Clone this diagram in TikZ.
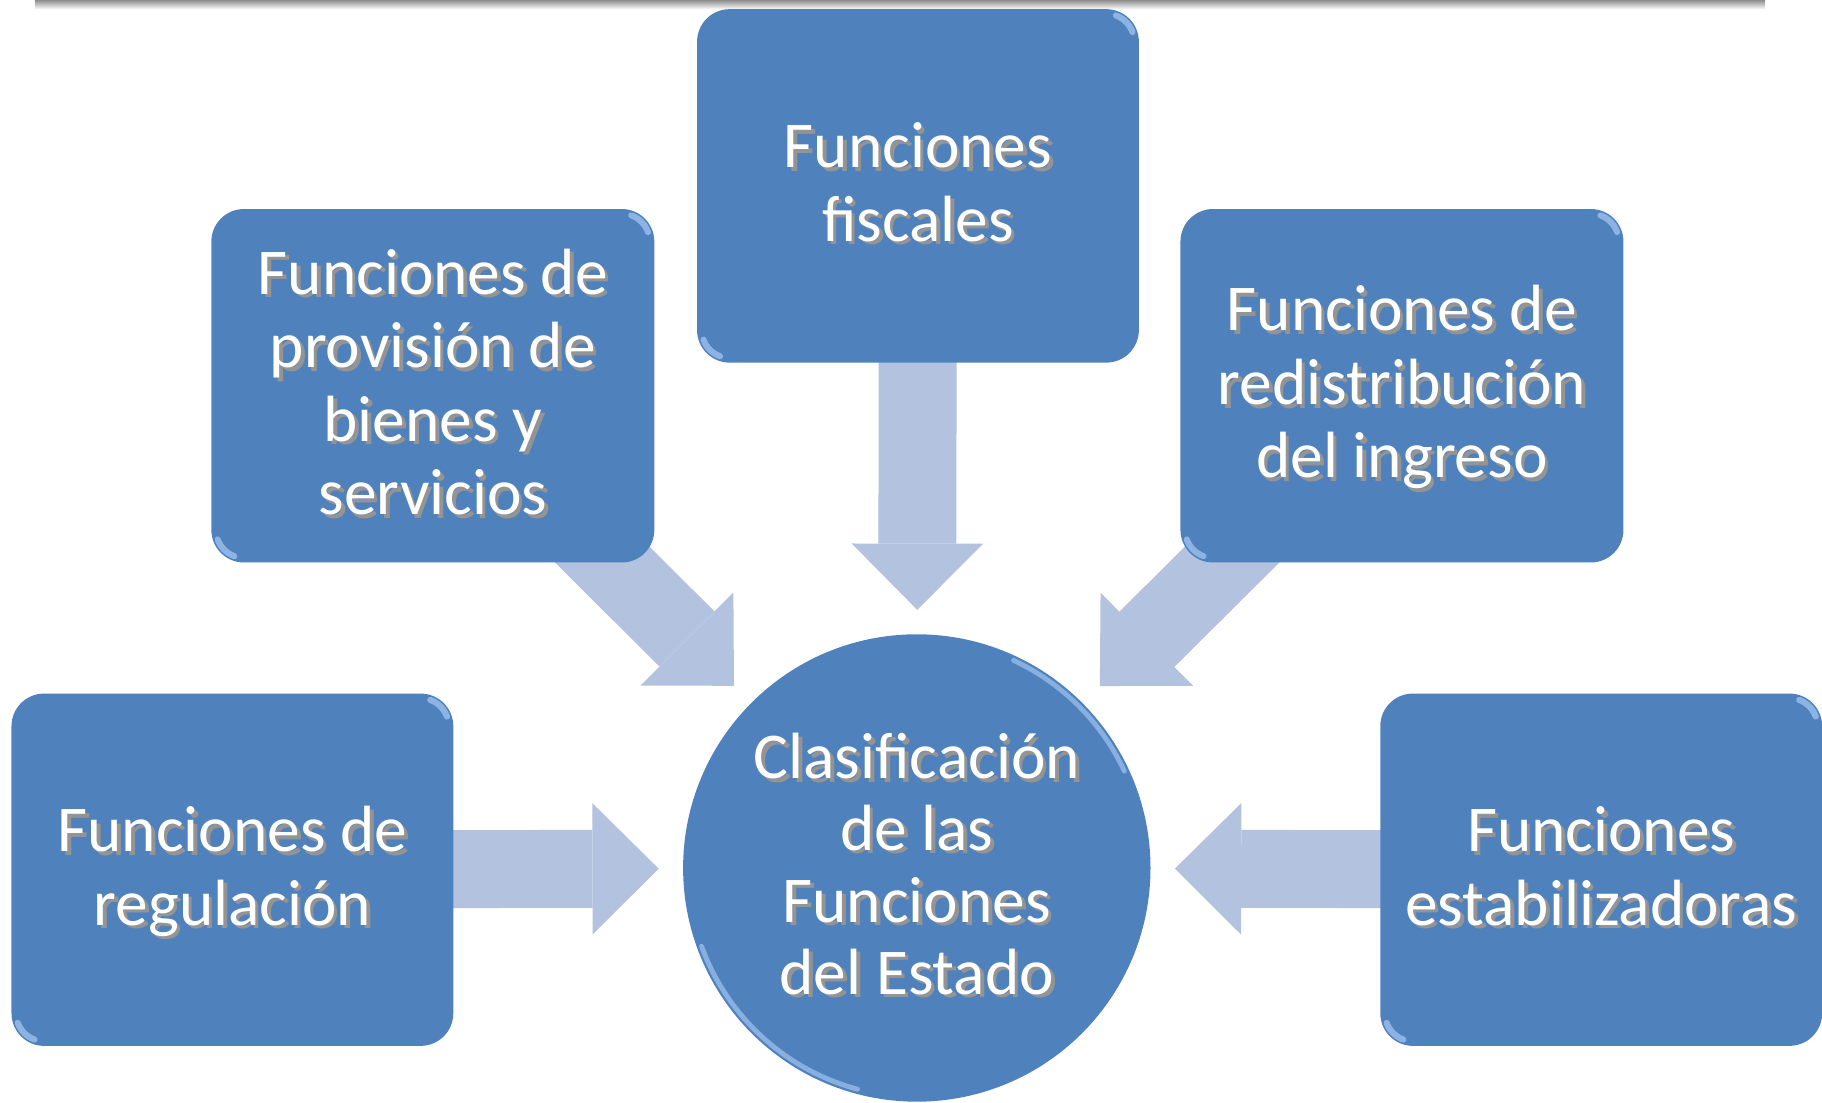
\documentclass[tikz,border=0pt]{standalone}
\usepackage{fontspec}
\setmainfont{Carlito}
\usetikzlibrary{arrows.meta,backgrounds}
\definecolor{boxblue}{RGB}{79,129,189}
\definecolor{arrowblue}{RGB}{179,194,222}
\definecolor{glint}{RGB}{150,188,235}
% white text with a soft dark shadow
\newcommand{\shtxt}[1]{\raisebox{-1.4pt}[\height][\depth]{%
\makebox[0pt][l]{\hspace{0.9pt}\raisebox{-0.9pt}{\color{black!42}\begin{tabular}{@{}c@{}}#1\end{tabular}}}%
\begin{tabular}{@{}c@{}}#1\end{tabular}}}
\tikzset{
funcbox/.style={rectangle, rounded corners=2.8mm, fill=boxblue, minimum width=3.8cm, minimum height=3.04cm, inner sep=0pt, outer sep=0pt, text=white, font=\fontsize{16}{18}\selectfont,
  path picture={
    \draw[glint, line width=1.5pt, line cap=round, opacity=0.85] ([shift={(-2.8mm,-2.8mm)}]path picture bounding box.north east) ++(70:2.4mm) arc[start angle=70, end angle=20, radius=2.4mm];
    \draw[glint, line width=1.5pt, line cap=round, opacity=0.85] ([shift={(2.8mm,2.8mm)}]path picture bounding box.south west) ++(250:2.4mm) arc[start angle=250, end angle=200, radius=2.4mm];
  }},
funccirc/.style={circle, fill=boxblue, minimum size=4.02cm, inner sep=0pt, outer sep=0pt, text=white, font=\fontsize{16}{17.6}\selectfont,
  path picture={
    \draw[glint, line width=1.2pt, line cap=round, opacity=0.8] (path picture bounding box.center) ++(65:1.97cm) arc[start angle=65, end angle=25, radius=1.97cm];
    \draw[glint, line width=1.2pt, line cap=round, opacity=0.8] (path picture bounding box.center) ++(255:1.97cm) arc[start angle=255, end angle=200, radius=1.97cm];
  }},
blockarrow/.style={draw=arrowblue, line width=6.7mm, line cap=butt, shorten >=2.1mm, -{Triangle[length=5.7mm,width=11.3mm,line width=0pt]}}
}
\begin{document}
\begin{tikzpicture}[x=0.01cm,y=0.01cm]
\useasboundingbox (0,0) rectangle (1568,949);
%top rule
\shade[top color=black!45, bottom color=white] (30,949) rectangle (1519,941);
\node[funccirc] (cen) at (789,202) {\shtxt{Clasificación\\de las\\Funciones\\del Estado}};
\node[funcbox] (fis) at (790,789) {\shtxt{Funciones\\fiscales}};
\node[funcbox, minimum width=3.81cm] (prov) at (372.5,617) {\shtxt{Funciones de\\provisión de\\bienes y\\servicios}};
\node[funcbox, minimum width=3.81cm] (red) at (1206.5,617) {\shtxt{Funciones de\\redistribución\\del ingreso}};
\node[funcbox, minimum height=3.03cm] (reg) at (200,200.5) {\shtxt{Funciones de\\regulación}};
\node[funcbox, minimum height=3.03cm] (est) at (1378,200.5) {\shtxt{Funciones\\estabilizadoras}};
\begin{pgfonlayer}{background}
\draw[blockarrow] (fis.center) -- (cen);
\draw[blockarrow] (prov.center) -- (cen);
\draw[blockarrow] (red.center) -- (cen);
\draw[blockarrow] (reg.center) -- (cen);
\draw[blockarrow] (est.center) -- (cen);
\end{pgfonlayer}
\end{tikzpicture}
\end{document}
